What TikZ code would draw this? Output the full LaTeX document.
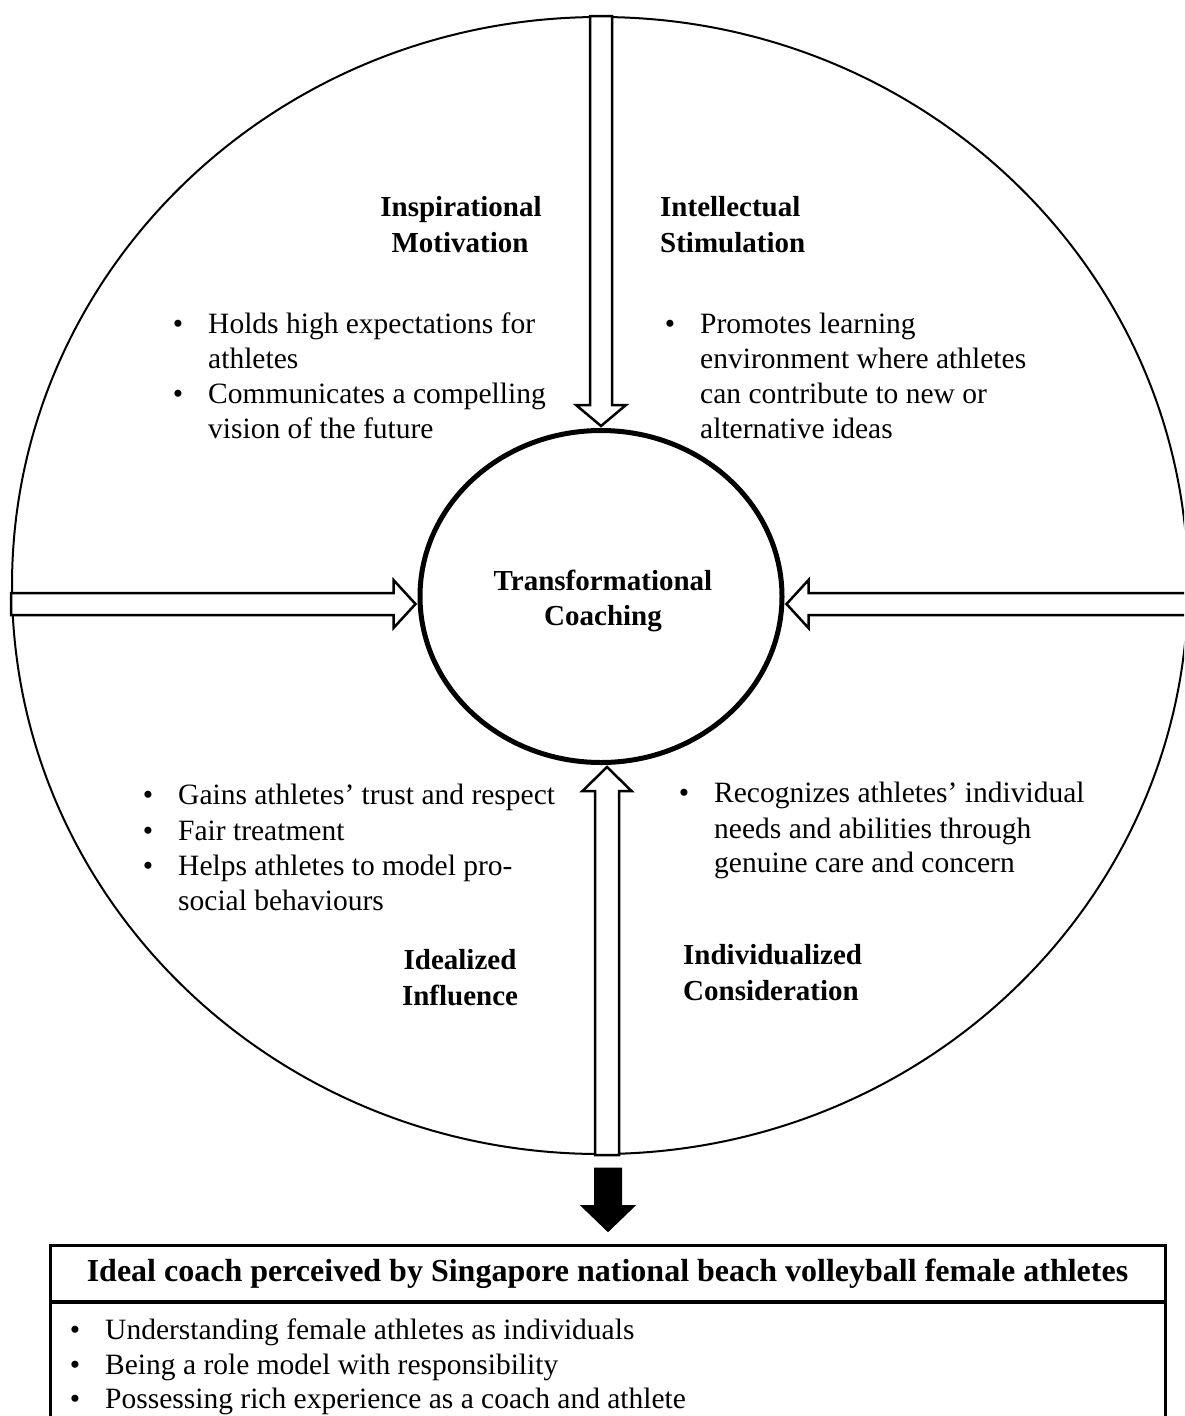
\documentclass[tikz,border=0pt]{standalone}
\usepackage{fontspec}
\setmainfont{Liberation Serif}
\usetikzlibrary{calc,shapes.geometric}
\begin{document}
\begin{tikzpicture}[x=1pt,y=-1pt,
  txt/.style={inner sep=0pt, font=\fontsize{29.5}{35}\selectfont, anchor=base west},
  hdl/.style={inner sep=0pt, font=\fontsize{29}{35}\selectfont\bfseries, anchor=base west},
  hdc/.style={inner sep=0pt, font=\fontsize{29}{35}\selectfont\bfseries, anchor=base},
  bul/.style={inner sep=0pt, font=\fontsize{29.5}{35}\selectfont, anchor=base},
  harrow/.style={draw, line width=2.5pt, fill=white, line join=miter},
  sarrow/.style={draw, line width=1pt, fill=black, line join=miter},
]
\useasboundingbox (0,0) rectangle (1184,1416);
\clip (0,0) rectangle (1184,1416);
\fill[white] (0,0) rectangle (1184,1416);

% outer circle
\node[ellipse, draw, line width=2pt, minimum width=1176, minimum height=1137, inner sep=0pt] (outer) at (600,585.5) {};
% inner circle (shape only, drawn later on top)
\node[ellipse, line width=5pt, minimum width=366, minimum height=336, inner sep=0pt] (tc) at (601,596.5) {};

% tips
\coordinate (tt) at (tc.north);
\coordinate (lt) at ($(tc.west)+(0,7.5)$);
\coordinate (rt) at ($(tc.east)+(0,7.5)$);
\coordinate (bt) at ($(tc.south)+(6,0)$);

% top arrow
\draw[harrow] ($(tt |- outer.north)+(-11,0)$) -- ($(tt)+(-11,-21)$) -- ($(tt)+(-25,-21)$) -- (tt)
  -- ($(tt)+(25,-21)$) -- ($(tt)+(11,-21)$) -- ($(tt |- outer.north)+(11,0)$) -- cycle;
% left arrow
\draw[harrow] ($(outer.west |- lt)+(0,-11)$) -- ($(lt)+(-22,-11)$) -- ($(lt)+(-22,-24)$) -- (lt)
  -- ($(lt)+(-22,24)$) -- ($(lt)+(-22,11)$) -- ($(outer.west |- lt)+(0,11)$) -- cycle;
% right arrow
\draw[harrow] ($(outer.east |- rt)+(10,-11)$) -- ($(rt)+(22,-11)$) -- ($(rt)+(22,-24)$) -- (rt)
  -- ($(rt)+(22,24)$) -- ($(rt)+(22,11)$) -- ($(outer.east |- rt)+(10,11)$) -- cycle;
% bottom arrow
\draw[harrow] ($(bt |- outer.south)+(-12,0)$) -- ($(bt)+(-12,24)$) -- ($(bt)+(-24.5,24)$) -- (bt)
  -- ($(bt)+(24.5,24)$) -- ($(bt)+(12,24)$) -- ($(bt |- outer.south)+(12,0)$) -- cycle;

% inner circle outline
\draw[line width=5pt] (tc.center) ellipse [x radius=181, y radius=166];

% centre text
\node[hdc] (tc1) at (603,590) {Transformational};
\node[hdc] (tc2) at (603,625) {Coaching};

% Inspirational Motivation
\node[hdc] (im1) at (461,216) {Inspirational};
\node[hdc] (im2) at (460,252) {Motivation};
\node[bul] (imb1) at (178,333) {•};
\node[txt] (imt1) at (208,333) {Holds high expectations for};
\node[txt] (imt2) at (208,368) {athletes};
\node[bul] (imb2) at (178,403) {•};
\node[txt] (imt3) at (208,403) {Communicates a compelling};
\node[txt] (imt4) at (208,438) {vision of the future};

% Intellectual Stimulation
\node[hdl] (is1) at (660,216) {Intellectual};
\node[hdl] (is2) at (660,252) {Stimulation};
\node[bul] (isb1) at (670,333) {•};
\node[txt] (ist1) at (700,333) {Promotes learning};
\node[txt] (ist2) at (700,368) {environment where athletes};
\node[txt] (ist3) at (700,403) {can contribute to new or};
\node[txt] (ist4) at (700,438) {alternative ideas};

% Idealized Influence
\node[bul] (iib1) at (148,804) {•};
\node[txt] (iit1) at (178,804) {Gains athletes’ trust and respect};
\node[bul] (iib2) at (148,840) {•};
\node[txt] (iit2) at (178,840) {Fair treatment};
\node[bul] (iib3) at (148,875) {•};
\node[txt] (iit3) at (178,875) {Helps athletes to model pro-};
\node[txt] (iit4) at (178,910) {social behaviours};
\node[hdc] (ii1) at (460,969) {Idealized};
\node[hdc] (ii2) at (460,1005) {Influence};

% Individualized Consideration
\node[bul] (icb1) at (684,802) {•};
\node[txt] (ict1) at (714,802) {Recognizes athletes’ individual};
\node[txt] (ict2) at (714,838) {needs and abilities through};
\node[txt] (ict3) at (714,872) {genuine care and concern};
\node[hdl] (ic1) at (683,964) {Individualized};
\node[hdl] (ic2) at (683,1000) {Consideration};

% bottom box
\node[draw, line width=3pt, minimum width=1115, minimum height=57, inner sep=0pt, outer sep=0pt,
  font=\fontsize{32}{38}\selectfont\bfseries] (title) at (607.5,1273.5)
  {Ideal coach perceived by Singapore national beach volleyball female athletes};
\draw[line width=4pt] (title.south west) -- (title.south east);
\draw[line width=3pt] (title.south west) -- ++(0,200);
\draw[line width=3pt] (title.south east) -- ++(0,200);

% black arrow
\coordinate (kt) at ($(title.north)+(0.5,-13.5)$);
\draw[sarrow] ($(kt |- outer.south)+(-13.5,13)$) -- ($(kt)+(-13.5,-26)$) -- ($(kt)+(-27,-26)$) -- (kt)
  -- ($(kt)+(27,-26)$) -- ($(kt)+(13.5,-26)$) -- ($(kt |- outer.south)+(13.5,13)$) -- cycle;

\node[bul] (bb1) at (75,1339) {•};
\node[txt] (bt1) at (105,1339) {Understanding female athletes as individuals};
\node[bul] (bb2) at (75,1374) {•};
\node[txt] (bt2) at (105,1374) {Being a role model with responsibility};
\node[bul] (bb3) at (75,1408) {•};
\node[txt] (bt3) at (105,1408) {Possessing rich experience as a coach and athlete};
\end{tikzpicture}
\end{document}
